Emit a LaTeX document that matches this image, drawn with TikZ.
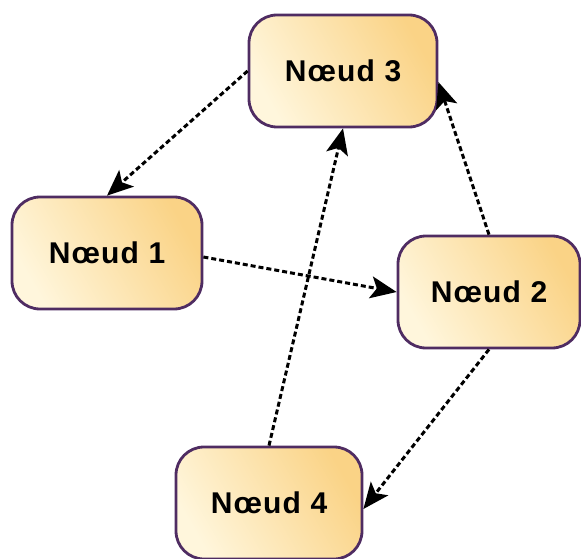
\documentclass[tikz,border=0pt]{standalone}
\usepackage{fontspec}
\setmainfont{Liberation Sans}
\usetikzlibrary{arrows.meta}
\definecolor{nodelight}{HTML}{FFF6DC}
\definecolor{nodedark}{HTML}{FAD386}
\definecolor{nodeborder}{HTML}{4F2C62}
\tikzset{
  noeud/.style={draw=nodeborder, line width=2.8pt, rounded corners=28pt,
    shading=axis, left color=nodelight, right color=nodedark, shading angle=120,
    minimum width=#1, minimum height=112pt, inner sep=0pt,
    font=\bfseries\fontsize{30}{34}\selectfont\addfontfeature{LetterSpace=4}},
  tete/.tip={Stealth[length=26pt,width=22pt,inset=6pt]},
  lien/.style={line width=3pt, dash pattern=on 5pt off 3pt, arrows={-tete}}
}
\begin{document}
\begin{tikzpicture}[x=1pt,y=-1pt]
\useasboundingbox (0,0) rectangle (581,559);
\node[noeud=188pt] (n3) at (343,71) {Nœud 3};
\node[noeud=190pt] (n1) at (107,253) {Nœud 1};
\node[noeud=182pt] (n2) at (489,292) {Nœud 2};
\node[noeud=186pt] (n4) at (269,503) {Nœud 4};
\draw[lien] (n3.west) -- (n1.north);
\draw[lien] ([yshift=-4pt]n1.east) -- (n2.west);
\draw[lien] (n2.north) -- ([yshift=-11pt]n3.east);
\draw[lien] (n2.south) -- ([yshift=-6pt]n4.east);
\draw[lien] (n4.north) -- (n3.south);
\end{tikzpicture}
\end{document}
